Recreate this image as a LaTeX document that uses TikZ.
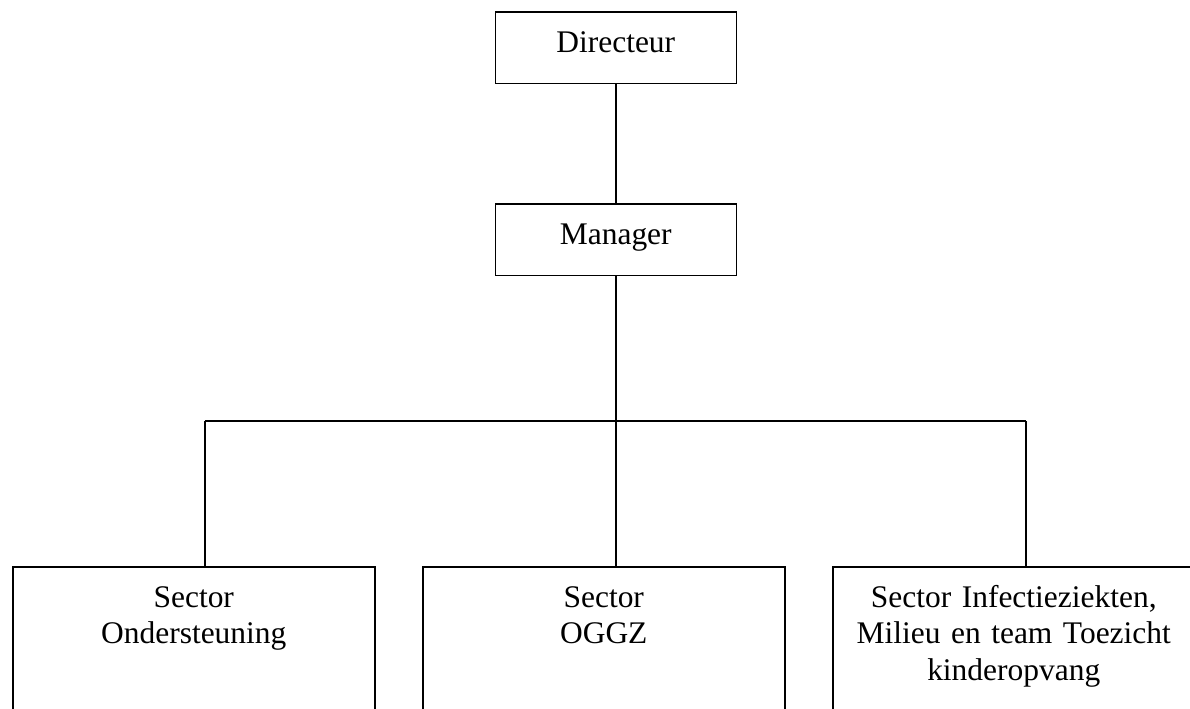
\documentclass[tikz,border=0pt]{standalone}
\usepackage{fontspec}
\setmainfont{Liberation Serif}
\begin{document}
\begin{tikzpicture}[x=0.75pt,y=-0.75pt,
  unit/.style={draw=black, line width=1.15pt, rectangle, inner sep=0pt},
  topunit/.style={unit, minimum width=180.75pt, minimum height=53.7pt},
  sector/.style={unit, minimum width=271.5pt, minimum height=180pt},
  caption/.style={font=\fontsize{23.6pt}{27.4pt}\selectfont, align=center,
    text width=260pt, anchor=base, inner sep=0pt},
  link/.style={line width=1.15pt}]
\useasboundingbox (0,0) rectangle (1190,708);
\clip (0,0) rectangle (1190,708);

% management boxes
\node[topunit, anchor=north west] (dir) at (494.5,11) {};
\node[caption] (dirtext) at ([yshift=-30.75pt]dir.north) {Directeur};
\node[topunit, anchor=north west] (man) at (494.5,203) {};
\node[caption] (mantext) at ([yshift=-30.75pt]man.north) {Manager};

% sector boxes (running off the lower edge)
\node[sector, anchor=north west] (ond) at (12,566) {};
\node[caption] (ondtext) at ([yshift=-30.75pt]ond.north) {Sector\\Ondersteuning};
\node[sector, anchor=north west] (oggz) at (422,566) {};
\node[caption] (oggztext) at ([yshift=-30.75pt]oggz.north) {Sector\\OGGZ};
\node[sector, anchor=north west] (inf) at (832,566) {};
\node[caption] (inftext) at ([yshift=-30.75pt]inf.north) {Sector Infectieziekten,\\Milieu en team Toezicht\\kinderopvang};

% bus bar
\coordinate (busL) at (205,421);
\coordinate (busM) at (man.south |- busL);
\coordinate (busR) at (1026,421);

\draw[link] (dir.south) -- (man.north);
\draw[link] (man.south) -- (busM);
\draw[link] (busL) -- (busR);
\draw[link] (busL) -- (busL |- ond.north);
\draw[link] (busM) -- (busM |- oggz.north);
\draw[link] (busR) -- (busR |- inf.north);
\end{tikzpicture}
\end{document}
